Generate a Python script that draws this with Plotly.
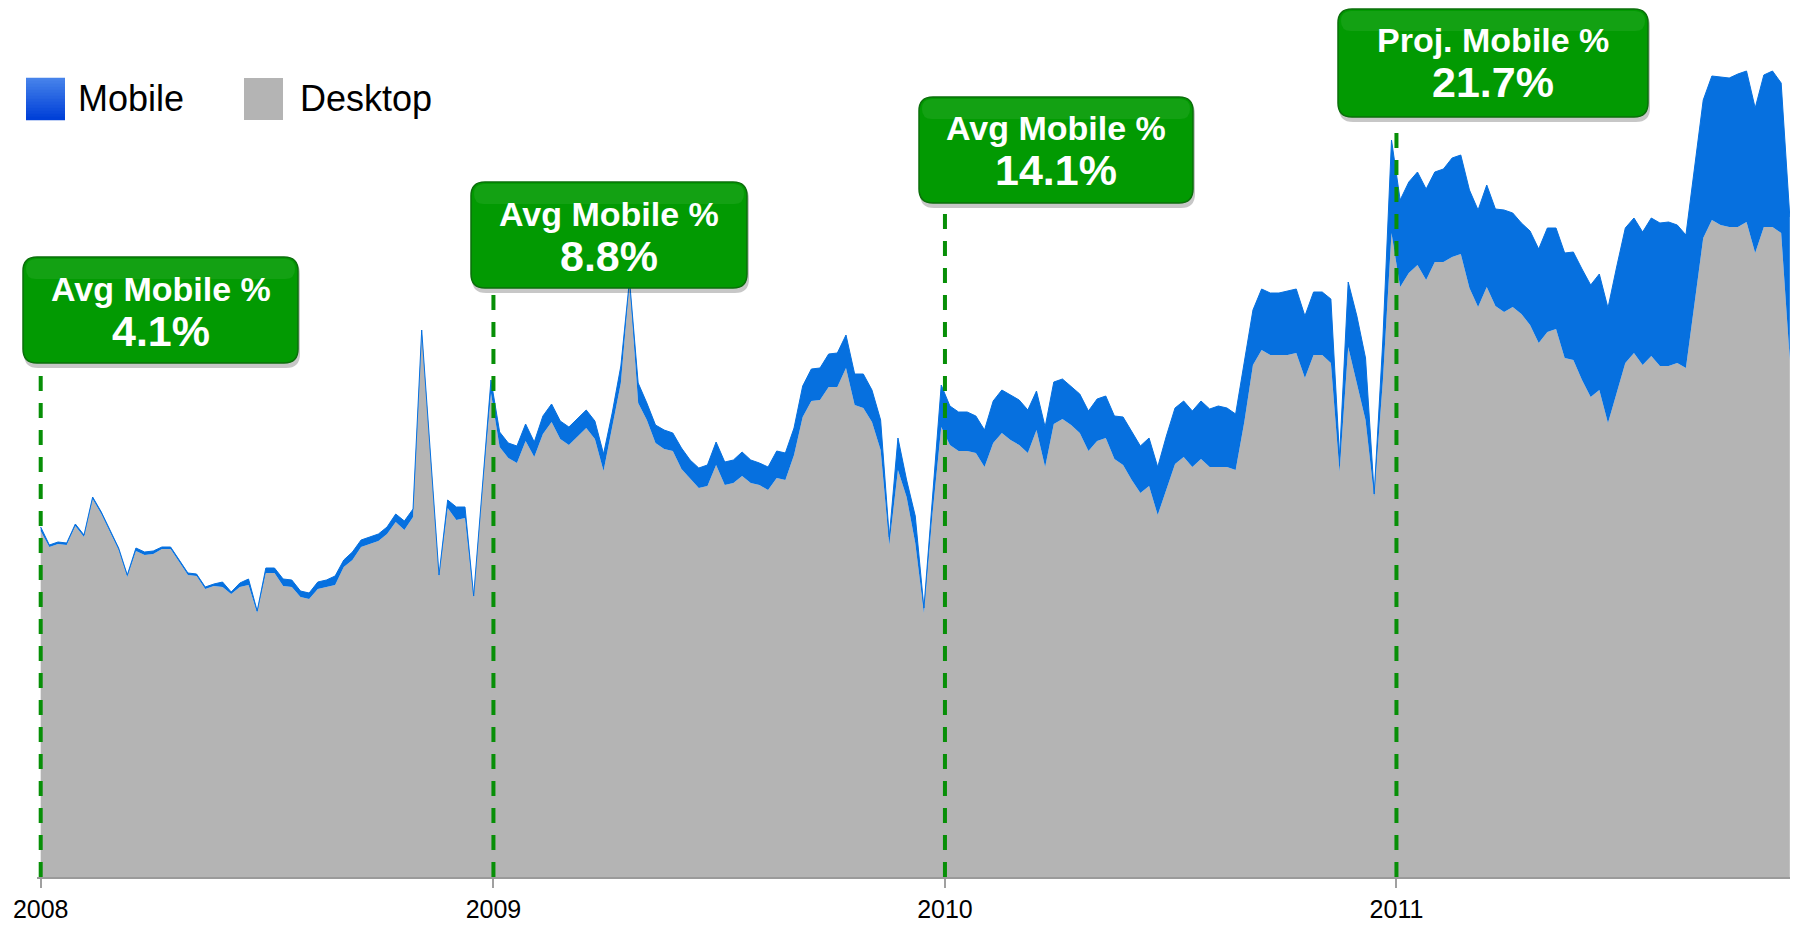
import plotly.graph_objects as go
import pandas as pd

# ---------------- data (relative weekly traffic) ----------------
start_date = "2008-01-01"

desktop = [
    # 2008
    346, 330, 333, 332, 351, 340, 378, 363, 345, 327,
    300, 326, 322, 323, 328, 328, 315, 302, 301, 288,
    291, 290, 283, 290, 292, 264, 304, 304, 291, 290,
    280, 278, 288, 290, 292, 310, 317, 330, 333, 336,
    343, 355, 347, 360, 544, 423, 300, 369, 357, 359,
    279, 386,
    # 2009
    484, 430, 419, 414, 436, 420, 443, 455, 438, 432,
    440, 449, 438, 406, 450, 494, 594, 474, 457, 434,
    428, 426, 408, 399, 389, 391, 412, 392, 394, 401,
    394, 392, 387, 399, 397, 422, 460, 476, 477, 490,
    490, 509, 472, 469, 455, 427, 332, 407, 380, 334,
    264, 364,
    # 2010
    450, 432, 426, 426, 424, 410, 434, 444, 437, 432,
    424, 447, 410, 453, 458, 452, 444, 426, 436, 439,
    418, 412, 397, 384, 391, 362, 388, 413, 420, 410,
    418, 410, 410, 410, 407, 455, 512, 527, 522, 522,
    522, 524, 499, 522, 522, 514, 405, 530, 494, 457,
    380, 496,
    # 2011
    644, 590, 604, 612, 597, 615, 615, 620, 623, 589,
    570, 590, 571, 565, 570, 563, 552, 534, 545, 548,
    519, 517, 497, 480, 487, 454, 484, 514, 524, 512,
    521, 511, 511, 514, 509, 574, 639, 657, 652, 650,
    650, 655, 624, 650, 650, 644, 517,
]

mobile = [
    # 2008
    4, 2, 2, 2, 2, 2, 2, 2, 2, 2,
    2, 3, 3, 3, 2, 2, 2, 2, 2, 2,
    2, 5, 2, 4, 6, 2, 5, 5, 7, 7,
    6, 6, 7, 7, 9, 7, 8, 7, 7, 7,
    7, 8, 9, 8, 3, 3, 2, 8, 13, 11,
    2, 3,
    # 2009
    13, 15, 15, 17, 17, 15, 18, 18, 18, 18,
    18, 18, 18, 17, 14, 17, 3, 20, 17, 18,
    19, 18, 21, 18, 20, 21, 23, 23, 23, 24,
    23, 22, 23, 27, 27, 27, 31, 32, 32, 33,
    34, 33, 31, 34, 32, 30, 8, 32, 17, 27,
    5, 17,
    # 2010
    42, 39, 39, 39, 37, 37, 42, 43, 45, 45,
    43, 39, 40, 42, 40, 38, 39, 40, 42, 42,
    43, 48, 49, 47, 48, 48, 53, 56, 56, 56,
    58, 58, 61, 59, 56, 62, 55, 61, 62, 62,
    64, 64, 62, 63, 63, 64, 15, 65, 67, 62,
    3, 41,
    # 2011
    93, 87, 91, 93, 91, 90, 93, 99, 99, 98,
    97, 102, 97, 102, 94, 91, 94, 94, 104, 101,
    105, 108, 111, 112, 116, 115, 126, 135, 135, 133,
    138, 143, 144, 138, 133, 133, 138, 144, 148, 149,
    153, 151, 145, 152, 156, 150, 143,
]

year_ticks = ["2008-01-01", "2009-01-01", "2010-01-01", "2011-01-01"]
year_labels = ["2008", "2009", "2010", "2011"]
box_titles = ["Avg Mobile %", "Avg Mobile %", "Avg Mobile %", "Proj. Mobile %"]
box_values = ["4.1%", "8.8%", "14.1%", "21.7%"]
series_names = ["Mobile", "Desktop"]

dates = pd.date_range(start_date, periods=len(desktop), freq="7D")

# ---------------- layout geometry (pixels) ----------------
W, H = 1797, 926
ML, MR, MT, MB = 37, 7, 0, 49
PW = W - ML - MR
PH = H - MT - MB
PX_PER_DAY = 1.2370
first_line_px = 40.7

x_start = pd.Timestamp(start_date) - pd.Timedelta(days=(first_line_px - ML) / PX_PER_DAY)
x_end = x_start + pd.Timedelta(days=PW / PX_PER_DAY)


def px_x(px):
    return (px - ML) / PW


def px_y(py):
    return (MT + PH - py) / PH


DESK_COLOR = "#b4b4b4"
MOB_COLOR = "#0670df"
GREEN = "#029a02"
GREEN_EDGE = "#0b6f0b"
DASH_GREEN = "#078f07"
FONT = "Liberation Sans, Arial, Helvetica, sans-serif"

fig = go.Figure()
fig.add_trace(go.Scatter(
    x=dates, y=desktop, name=series_names[1], stackgroup="s",
    mode="lines", line=dict(width=0, color=DESK_COLOR), fillcolor=DESK_COLOR,
    hoverinfo="x+y",
))
fig.add_trace(go.Scatter(
    x=dates, y=mobile, name=series_names[0], stackgroup="s",
    mode="lines", line=dict(width=1, color=MOB_COLOR), fillcolor=MOB_COLOR,
    hoverinfo="x+y",
))

shapes = []
annotations = []

# boxes (left, top, right, bottom) in px
box_px = [(23, 257, 298, 363), (471, 182, 747, 288), (919, 97, 1193, 203), (1338, 9, 1648, 117)]


def rrect_path(x0, y0, x1, y1, r):
    X = lambda v: px_x(v)
    Y = lambda v: px_y(v)
    return (
        f"M {X(x0 + r)},{Y(y0)} L {X(x1 - r)},{Y(y0)} "
        f"Q {X(x1)},{Y(y0)} {X(x1)},{Y(y0 + r)} "
        f"L {X(x1)},{Y(y1 - r)} Q {X(x1)},{Y(y1)} {X(x1 - r)},{Y(y1)} "
        f"L {X(x0 + r)},{Y(y1)} Q {X(x0)},{Y(y1)} {X(x0)},{Y(y1 - r)} "
        f"L {X(x0)},{Y(y0 + r)} Q {X(x0)},{Y(y0)} {X(x0 + r)},{Y(y0)} Z"
    )


for i, yr in enumerate(year_ticks):
    x0, y0, x1, y1 = box_px[i]
    shapes.append(dict(
        type="line", xref="x", yref="paper", x0=yr, x1=yr,
        y0=0, y1=px_y(y1 + 4), layer="above",
        line=dict(color=DASH_GREEN, width=4, dash="15px,12px"),
    ))
for i, yr in enumerate(year_ticks):
    x0, y0, x1, y1 = box_px[i]
    shapes.append(dict(
        type="path", xref="paper", yref="paper", layer="above",
        path=rrect_path(x0 + 1, y0 + 3, x1 + 2, y1 + 5, 14),
        fillcolor="rgba(0,0,0,0.22)", line=dict(width=0),
    ))
    shapes.append(dict(
        type="path", xref="paper", yref="paper", layer="above",
        path=rrect_path(x0, y0, x1, y1, 14),
        fillcolor=GREEN, line=dict(color=GREEN_EDGE, width=1.5),
    ))
    shapes.append(dict(
        type="path", xref="paper", yref="paper", layer="above",
        path=rrect_path(x0 + 3, y0 + 2, x1 - 3, y0 + 22, 10),
        fillcolor="rgba(255,255,255,0.07)", line=dict(width=0),
    ))
    cx = (x0 + x1) / 2
    annotations.append(dict(
        xref="paper", yref="paper", x=px_x(cx), y=px_y(y0 + 31.5),
        xanchor="center", yanchor="middle", showarrow=False,
        text=box_titles[i], font=dict(family=FONT, size=34, color="white", weight="bold"),
    ))
    annotations.append(dict(
        xref="paper", yref="paper", x=px_x(cx), y=px_y(y0 + 73.5),
        xanchor="center", yanchor="middle", showarrow=False,
        text=box_values[i], font=dict(family=FONT, size=43, color="white", weight="bold"),
    ))

# legend (custom)
sq_top, sq_bot = 78, 120
n_strips = 14
c_top = (70, 130, 234)
c_bot = (0, 64, 216)
for k in range(n_strips):
    t = k / (n_strips - 1)
    c = tuple(round(c_top[j] + (c_bot[j] - c_top[j]) * t) for j in range(3))
    ya = sq_top + (sq_bot - sq_top) * k / n_strips
    yb = sq_top + (sq_bot - sq_top) * (k + 1) / n_strips
    shapes.append(dict(
        type="rect", xref="paper", yref="paper", layer="above",
        x0=px_x(26), x1=px_x(65), y0=px_y(ya - 0.3), y1=px_y(yb + 0.3),
        fillcolor=f"rgb{c}", line=dict(width=0),
    ))
shapes.append(dict(
    type="rect", xref="paper", yref="paper", layer="above",
    x0=px_x(244), x1=px_x(283), y0=px_y(sq_top), y1=px_y(sq_bot),
    fillcolor=DESK_COLOR, line=dict(width=0),
))
annotations.append(dict(
    xref="paper", yref="paper", x=px_x(76), y=px_y(99),
    xanchor="left", yanchor="middle", showarrow=False,
    text=series_names[0], font=dict(family=FONT, size=36, color="black"),
))
annotations.append(dict(
    xref="paper", yref="paper", x=px_x(298), y=px_y(99),
    xanchor="left", yanchor="middle", showarrow=False,
    text=series_names[1], font=dict(family=FONT, size=36, color="black"),
))

fig.update_layout(
    width=W, height=H,
    margin=dict(l=ML, r=MR, t=MT, b=MB, pad=0),
    paper_bgcolor="white", plot_bgcolor="white",
    showlegend=False,
    shapes=shapes, annotations=annotations,
    xaxis=dict(
        type="date", range=[x_start, x_end],
        tickvals=year_ticks, ticktext=year_labels,
        ticks="outside", ticklen=9, tickwidth=2, tickcolor="#a0a0a0",
        showline=True, linecolor="#9a9a9a", linewidth=2,
        showgrid=False, zeroline=False,
        tickfont=dict(family=FONT, size=25, color="black"),
        fixedrange=True,
    ),
    yaxis=dict(
        range=[0, PH], visible=False, showgrid=False, zeroline=False, fixedrange=True,
    ),
)

fig.write_html("out.html", config={"displayModeBar": False},
               post_script="document.body.style.margin='0px';")
